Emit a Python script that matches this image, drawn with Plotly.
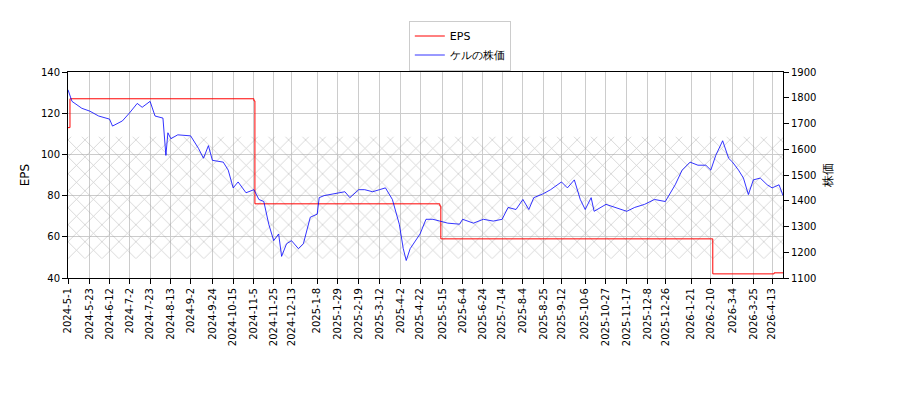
import plotly.graph_objects as go

eps_dates = ["2024-05-01","2024-05-03","2024-11-05","2024-11-06","2025-05-12","2025-05-13","2026-02-10","2026-02-12","2026-04-15","2026-04-24"]
eps_vals  = [113, 127, 126, 76, 75, 59, 59, 42, 42.5, 42.5]

price_dates = ["2024-05-01","2024-05-05","2024-05-15","2024-05-23","2024-06-01","2024-06-12","2024-06-15","2024-06-25","2024-07-02","2024-07-10","2024-07-15","2024-07-23","2024-07-28","2024-08-05","2024-08-08","2024-08-10","2024-08-13","2024-08-20","2024-09-02","2024-09-10","2024-09-15","2024-09-20","2024-09-24","2024-10-05","2024-10-10","2024-10-15","2024-10-20","2024-10-28","2024-11-05","2024-11-10","2024-11-15","2024-11-20","2024-11-25","2024-11-30","2024-12-03","2024-12-08","2024-12-13","2024-12-20","2024-12-25","2025-01-01","2025-01-08","2025-01-10","2025-01-15","2025-01-25","2025-02-05","2025-02-10","2025-02-19","2025-02-25","2025-03-05","2025-03-12","2025-03-18","2025-03-25","2025-04-01","2025-04-05","2025-04-08","2025-04-12","2025-04-22","2025-04-28","2025-05-05","2025-05-12","2025-05-20","2025-06-01","2025-06-04","2025-06-15","2025-06-25","2025-07-05","2025-07-14","2025-07-20","2025-07-28","2025-08-04","2025-08-10","2025-08-15","2025-08-25","2025-09-01","2025-09-12","2025-09-18","2025-09-25","2025-10-01","2025-10-06","2025-10-12","2025-10-15","2025-10-27","2025-11-05","2025-11-17","2025-11-25","2025-12-05","2025-12-15","2025-12-26","2026-01-05","2026-01-12","2026-01-20","2026-01-28","2026-02-05","2026-02-10","2026-02-15","2026-02-22","2026-02-28","2026-03-04","2026-03-10","2026-03-15","2026-03-20","2026-03-25","2026-04-01","2026-04-08","2026-04-13","2026-04-20","2026-04-24"]
price_vals = [1831,1786,1759,1748,1729,1717,1690,1710,1740,1778,1763,1786,1729,1721,1576,1664,1641,1656,1652,1603,1565,1614,1557,1550,1519,1450,1473,1431,1443,1405,1397,1309,1245,1271,1184,1233,1245,1214,1233,1336,1348,1412,1420,1428,1435,1412,1443,1443,1435,1443,1450,1405,1309,1214,1168,1214,1271,1328,1328,1321,1313,1309,1328,1313,1328,1321,1328,1374,1366,1405,1366,1412,1428,1443,1473,1450,1481,1405,1366,1412,1359,1386,1374,1359,1374,1386,1405,1397,1462,1519,1550,1538,1538,1519,1576,1633,1565,1550,1519,1488,1424,1481,1488,1462,1450,1462,1420]

tick_dates = ["2024-05-01","2024-05-23","2024-06-12","2024-07-02","2024-07-23","2024-08-13","2024-09-02","2024-09-24","2024-10-15","2024-11-05","2024-11-25","2024-12-13","2025-01-08","2025-01-29","2025-02-19","2025-03-12","2025-04-02","2025-04-22","2025-05-15","2025-06-04","2025-06-24","2025-07-14","2025-08-04","2025-08-25","2025-09-12","2025-10-06","2025-10-27","2025-11-17","2025-12-08","2025-12-26","2026-01-21","2026-02-10","2026-03-04","2026-03-25","2026-04-13"]
tick_text = [f"{int(d[:4])}-{int(d[5:7])}-{int(d[8:])}" for d in tick_dates]

band = [49.5, 108.6]
x0, x1 = "2024-05-01", "2026-04-24"

fig = go.Figure()
fig.add_trace(go.Scatter(x=[x0, x1, x1, x0, x0], y=[band[0], band[0], band[1], band[1], band[0]],
    fill="toself", mode="none", fillcolor="rgba(0,0,0,0)", showlegend=False, hoverinfo="skip",
    fillpattern=dict(shape="x", fgcolor="#999999", bgcolor="rgba(0,0,0,0)", size=12, solidity=0.12)))
fig.add_trace(go.Scatter(x=eps_dates, y=eps_vals, name="EPS", mode="lines", line=dict(color="red", width=1, shape="hv")))
fig.add_trace(go.Scatter(x=price_dates, y=price_vals, name="ケルの株価", mode="lines", line=dict(color="blue", width=0.8), yaxis="y2"))

ax = dict(showline=True, linecolor="black", ticks="outside", tickcolor="black", automargin=False,
          showgrid=True, gridcolor="#cccccc", zeroline=False)
fig.update_layout(
    width=900, height=400, margin=dict(l=60, r=125, t=60, b=130),
    paper_bgcolor="white", plot_bgcolor="white",
    font=dict(family="DejaVu Sans", size=10, color="black"),
    xaxis=dict(ax, range=[x0, x1], tickvals=tick_dates, ticktext=tick_text, tickangle=-90, mirror=True),
    yaxis=dict(ax, range=[40, 140], dtick=20, title=dict(text="EPS", standoff=8)),
    yaxis2=dict(ax, overlaying="y", side="right", range=[1100, 1900], dtick=100, showgrid=False, title=dict(text="株価", standoff=8)),
    legend=dict(x=0.548, y=1.25, xanchor="center", yanchor="top", bordercolor="#cccccc", borderwidth=1, bgcolor="white",
                font=dict(size=11)),
)
fig.write_html("out.html")
